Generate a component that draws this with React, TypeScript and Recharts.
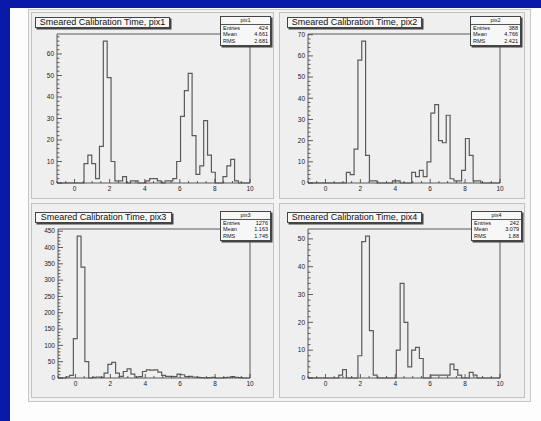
import React from 'react';
import { LineChart, Line, XAxis, YAxis, ReferenceArea } from 'recharts';

// bin edges of the 50-bin histograms, -1 .. 10
const BIN_EDGES = [
  -1, -0.78, -0.56, -0.34, -0.12, 0.1, 0.32, 0.54, 0.76, 0.98,
  1.2, 1.42, 1.64, 1.86, 2.08, 2.3, 2.52, 2.74, 2.96, 3.18,
  3.4, 3.62, 3.84, 4.06, 4.28, 4.5, 4.72, 4.94, 5.16, 5.38,
  5.6, 5.82, 6.04, 6.26, 6.48, 6.7, 6.92, 7.14, 7.36, 7.58,
  7.8, 8.02, 8.24, 8.46, 8.68, 8.9, 9.12, 9.34, 9.56, 9.78, 10,
];

const PIX1_COUNTS = [
  0, 0, 0, 0, 0, 0, 0, 9, 13, 9,
  2, 17, 66, 49, 10, 1, 1, 3, 0, 1,
  1, 0, 0, 1, 2, 2, 1, 0, 1, 1,
  2, 10, 31, 43, 51, 22, 4, 8, 29, 13,
  5, 0, 0, 3, 8, 11, 1, 0, 0, 0,
];
const PIX2_COUNTS = [
  0, 0, 0, 0, 0, 0, 0, 0, 0, 0,
  5, 4, 16, 58, 67, 13, 1, 1, 0, 0,
  0, 0, 1, 1, 0, 0, 0, 5, 3, 6,
  3, 10, 33, 37, 20, 19, 32, 2, 1, 1,
  6, 21, 13, 1, 1, 0, 0, 0, 0, 0,
];
const PIX3_COUNTS = [
  0, 0, 3, 8, 121, 435, 340, 50, 0, 2,
  3, 2, 15, 42, 48, 15, 5, 20, 28, 12,
  3, 4, 20, 25, 24, 25, 18, 8, 5, 5,
  4, 12, 10, 4, 5, 3, 2, 1, 0, 1,
  2, 0, 0, 1, 2, 4, 2, 1, 0, 0,
];
const PIX4_COUNTS = [
  0, 0, 0, 0, 0, 0, 0, 0, 1, 3,
  0, 0, 0, 8, 49, 51, 17, 1, 0, 0,
  0, 0, 0, 10, 34, 20, 4, 10, 11, 7,
  0, 0, 1, 1, 1, 1, 1, 5, 3, 1,
  0, 0, 2, 1, 0, 0, 0, 0, 0, 0,
];

const X_TICKS = [0, 2, 4, 6, 8, 10];
const PIX1_Y_TICKS = [0, 10, 20, 30, 40, 50, 60];
const PIX2_Y_TICKS = [0, 10, 20, 30, 40, 50, 60, 70];
const PIX3_Y_TICKS = [0, 50, 100, 150, 200, 250, 300, 350, 400, 450];
const PIX4_Y_TICKS = [0, 10, 20, 30, 40, 50];

const TITLES = [
  'Smeared Calibration Time, pix1',
  'Smeared Calibration Time, pix2',
  'Smeared Calibration Time, pix3',
  'Smeared Calibration Time, pix4',
];
const STAT_NAMES = ['pix1', 'pix2', 'pix3', 'pix4'];
const STAT_ENTRIES = ['424', '388', '1276', '242'];
const STAT_MEANS = ['4.661', '4.766', '1.163', '3.079'];
const STAT_RMS = ['2.681', '2.421', '1.745', '1.88'];

const FONT = '"Liberation Sans", Arial, sans-serif';
const INK = '#3a3a3a';

const YW = 26;
const MR = 4;
const MT = 6;
const XH = 14;

// pad / frame placement on the page
const PADS = [
  { counts: PIX1_COUNTS, yTicks: PIX1_Y_TICKS, yMinor: 2, pad: [31, 12, 243, 187], frame: [57, 34, 193, 149], title: [35, 17, 133], stats: [220, 16] },
  { counts: PIX2_COUNTS, yTicks: PIX2_Y_TICKS, yMinor: 2, pad: [279, 12, 246, 187], frame: [308, 34, 192, 149], title: [287, 17, 133], stats: [470, 16] },
  { counts: PIX3_COUNTS, yTicks: PIX3_Y_TICKS, yMinor: 10, pad: [31, 203, 243, 195], frame: [58, 229, 192, 149], title: [35, 212, 135], stats: [220, 211] },
  { counts: PIX4_COUNTS, yTicks: PIX4_Y_TICKS, yMinor: 2, pad: [279, 203, 246, 195], frame: [308, 229, 192, 149], title: [287, 212, 133], stats: [471, 211] },
];

const steps = (from: number, to: number, step: number) => {
  const out: number[] = [];
  for (let v = from; v <= to + 1e-9; v += step) out.push(Math.round(v * 1000) / 1000);
  return out;
};

const X_ALL_TICKS = steps(-1, 10, 0.5);

const makeYTick = (major: number[]) => (props: any) => {
  const { x, y, payload } = props;
  const isMajor = major.includes(payload.value);
  return (
    <g>
      <line x1={x} x2={x + (isMajor ? 5 : 2.5)} y1={y} y2={y} stroke={INK} strokeWidth={0.8} />
      {isMajor && (
        <text x={x - 3} y={y} dy="0.35em" textAnchor="end" fontSize={6.5} fontFamily={FONT} fill="#222">
          {payload.value}
        </text>
      )}
    </g>
  );
};

const XTick = (props: any) => {
  const { x, y, payload } = props;
  const isMajor = X_TICKS.includes(payload.value);
  return (
    <g>
      <line x1={x} x2={x} y1={y} y2={y - (isMajor ? 4 : 2)} stroke={INK} strokeWidth={0.8} />
      {isMajor && (
        <text x={x} y={y + 8} textAnchor="middle" fontSize={6.5} fontFamily={FONT} fill="#222">
          {payload.value}
        </text>
      )}
    </g>
  );
};

const Pad = ({ idx }: { idx: number }) => {
  const p = PADS[idx];
  const [px, py, pw, ph] = p.pad;
  const [fx, fy, fw, fh] = p.frame;
  const data = BIN_EDGES.map((x, i) => ({ x, n: p.counts[Math.min(i, p.counts.length - 1)] }));
  const top = Math.max(...p.counts) * 1.05;
  const yAll = steps(0, top, p.yMinor);

  return (
    <>
      <div style={{ position: 'absolute', left: px, top: py, width: pw - 2, height: ph - 2, background: '#efefef', border: '1px solid #c2c2c2' }} />
      <div style={{ position: 'absolute', left: fx - YW, top: fy - MT }}>
        <LineChart width={YW + fw + MR} height={MT + fh + XH} data={data} margin={{ top: MT, right: MR, bottom: 0, left: 0 }}>
          <XAxis
            type="number"
            dataKey="x"
            domain={[-1, 10]}
            ticks={X_ALL_TICKS}
            interval={0}
            height={XH}
            axisLine={false}
            tickLine={false}
            tickSize={0}
            tickMargin={0}
            tick={XTick}
          />
          <YAxis
            type="number"
            domain={[0, (m: number) => m * 1.05]}
            ticks={yAll}
            interval={0}
            width={YW}
            axisLine={false}
            tickLine={false}
            tickSize={0}
            tickMargin={0}
            tick={makeYTick(p.yTicks)}
          />
          <ReferenceArea x1={-1} x2={10} fill="none" stroke="#4a4a4a" strokeWidth={0.9} />
          <Line type="stepAfter" dataKey="n" stroke="#5a5a5a" strokeWidth={1.2} dot={false} isAnimationActive={false} />
        </LineChart>
      </div>
      <div
        style={{
          position: 'absolute', left: p.title[0], top: p.title[1], width: p.title[2], height: 9,
          border: '1px solid #444', boxShadow: '1.5px 1.5px 0 #444', background: '#f7f7f7',
          fontFamily: FONT, fontSize: 9, lineHeight: '9px', textAlign: 'center', color: '#111', whiteSpace: 'nowrap',
        }}
      >
        {TITLES[idx]}
      </div>
      <div
        style={{
          position: 'absolute', left: p.stats[0], top: p.stats[1], width: 49, height: 28,
          border: '1px solid #444', boxShadow: '1.5px 1.5px 0 #444', background: '#f7f7f7',
          fontFamily: FONT, fontSize: 5.5, color: '#111',
        }}
      >
        <div style={{ textAlign: 'center', height: 6.5, lineHeight: '6.5px', borderBottom: '1px solid #555' }}>{STAT_NAMES[idx]}</div>
        {[['Entries', STAT_ENTRIES[idx]], ['Mean', STAT_MEANS[idx]], ['RMS', STAT_RMS[idx]]].map(([k, v]) => (
          <div key={k} style={{ display: 'flex', justifyContent: 'space-between', padding: '0 2px', height: 6.6, lineHeight: '6.6px' }}>
            <span>{k}</span>
            <span>{v}</span>
          </div>
        ))}
      </div>
    </>
  );
};

export default function App() {
  return (
    <div style={{ position: 'absolute', left: 0, top: 0, width: 541, height: 421, background: '#0a1aa8', overflow: 'hidden' }}>
      <div style={{ position: 'absolute', left: 10, top: 8, width: 531, height: 413, background: '#fdfdfd' }} />
      <div style={{ position: 'absolute', left: 28, top: 9, width: 501, height: 391, background: '#f3f3f3', border: '1px solid #c6c6c6' }} />
      {PADS.map((_, i) => (
        <Pad key={i} idx={i} />
      ))}
    </div>
  );
}
